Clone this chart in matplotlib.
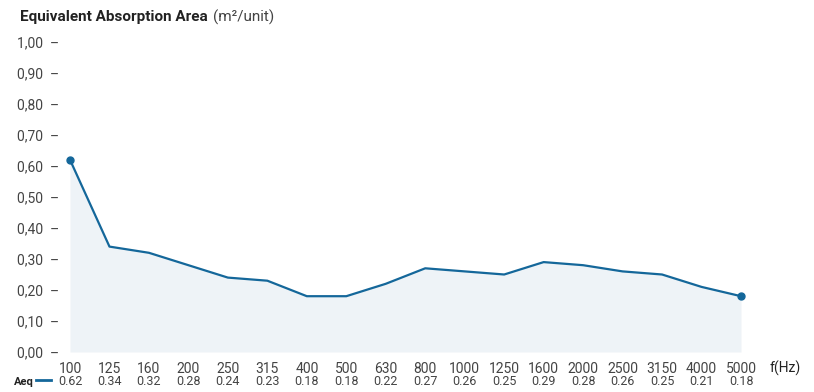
import matplotlib
matplotlib.use("Agg")
import matplotlib.pyplot as plt
import numpy as np

# data
freqs = ["100", "125", "160", "200", "250", "315", "400", "500", "630", "800",
         "1000", "1250", "1600", "2000", "2500", "3150", "4000", "5000"]
aeq = [0.62, 0.34, 0.32, 0.28, 0.24, 0.23, 0.18, 0.18, 0.22, 0.27,
       0.26, 0.25, 0.29, 0.28, 0.26, 0.25, 0.21, 0.18]
yticks = [0.0, 0.1, 0.2, 0.3, 0.4, 0.5, 0.6, 0.7, 0.8, 0.9, 1.0]

LINE = "#14679a"
FILL = "#eef3f7"
TXT = "#444444"
plt.rcParams["font.family"] = ["Roboto", "DejaVu Sans"]

fig = plt.figure(figsize=(8.14, 3.92), dpi=100)
ax = fig.add_axes([70 / 814, 40 / 392, 671 / 814, 310 / 392])

x = np.arange(len(freqs))
ax.fill_between(x, aeq, 0, color=FILL, linewidth=0)
ax.plot(x, aeq, color=LINE, linewidth=1.6)
ax.plot([x[0], x[-1]], [aeq[0], aeq[-1]], "o", color=LINE, markersize=5,
        clip_on=False)

ax.set_xlim(0, len(freqs) - 1)
ax.set_ylim(0, 1.0)
for s in ax.spines.values():
    s.set_visible(False)

ax.set_yticks(yticks)
ax.set_yticklabels([f"{v:.2f}".replace(".", ",") + "  \u2013" for v in yticks],
                   fontsize=10, color=TXT)
ax.tick_params(axis="y", length=0, pad=8)
ax.set_xticks(x)
ax.set_xticklabels(freqs, fontsize=10, color=TXT)
ax.tick_params(axis="x", length=0, pad=7)

fig.text(770 / 814, 1 - 368 / 392, "f(Hz)", fontsize=10, color="#222222",
         ha="left", va="center")

# title
t = fig.text(20 / 814, 1 - 17 / 392, "Equivalent Absorption Area", fontsize=11,
             fontweight="bold", color="#222222", ha="left", va="center")
fig.canvas.draw()
bb = t.get_window_extent()
fig.text((bb.x1 + 5) / 814, 1 - 17 / 392, "(m\u00b2/unit)", fontsize=11,
         color="#444444", ha="left", va="center")

# legend row with values
fig.text(14 / 814, 1 - 382 / 392, "Aeq", fontsize=8, fontweight="bold",
         color="#222222", ha="left", va="center")
fig.add_artist(plt.Line2D([36 / 814, 51 / 814], [1 - 380 / 392, 1 - 380 / 392],
                          color=LINE, linewidth=2))
for xi, v in zip(x, aeq):
    ax.annotate(f"{v:.2f}", xy=(xi, 0), xycoords="data",
                xytext=(0, -21), textcoords="offset points",
                ha="center", va="center", fontsize=9, color=TXT)

fig.savefig("out.png", dpi=100)
